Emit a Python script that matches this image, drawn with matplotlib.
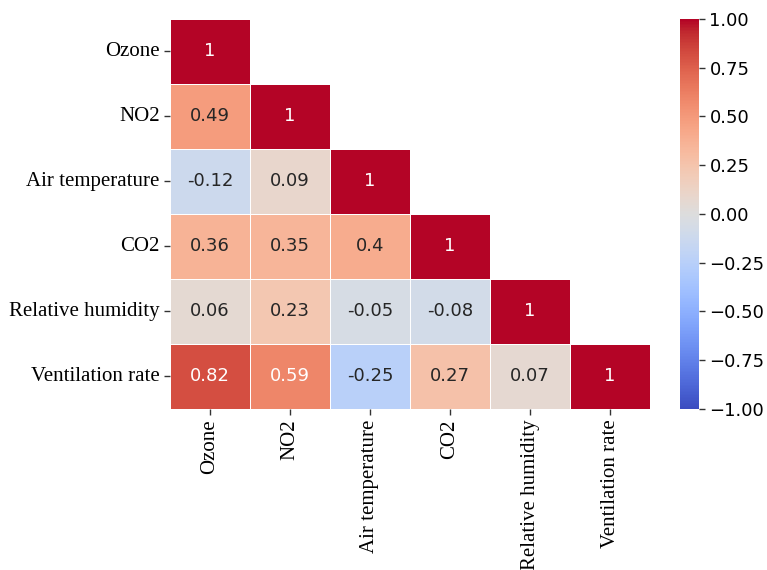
import matplotlib
matplotlib.use("Agg")
import matplotlib.pyplot as plt
import seaborn as sns
import numpy as np
import pandas as pd

# variables and lower-triangle correlation values
variables = ['Ozone', 'NO2', 'Air temperature', 'CO2', 'Relative humidity', 'Ventilation rate']
row_ozone = [1.0]
row_no2 = [0.49, 1.0]
row_airtemp = [-0.12, 0.09, 1.0]
row_co2 = [0.36, 0.35, 0.4, 1.0]
row_rh = [0.06, 0.23, -0.05, -0.08, 1.0]
row_vent = [0.82, 0.59, -0.25, 0.27, 0.07, 1.0]

rows = [row_ozone, row_no2, row_airtemp, row_co2, row_rh, row_vent]
n = len(variables)
corr = np.zeros((n, n))
for i, r in enumerate(rows):
    corr[i, :len(r)] = r
corr = corr + np.tril(corr, -1).T
corr = pd.DataFrame(corr, index=variables, columns=variables)

mask = np.triu(np.ones_like(corr, dtype=bool), k=1)

fig = plt.figure(figsize=(7.67, 5.70), dpi=100)
ax = fig.add_axes([0.2216, 0.2825, 0.6259, 0.6842])
cax = fig.add_axes([0.8866, 0.2825, 0.0248, 0.6842])

sns.heatmap(corr, mask=mask, cmap='coolwarm', vmin=-1, vmax=1, annot=True,
            annot_kws={'fontsize': 13}, linewidths=0.5, linecolor='white',
            ax=ax, cbar_ax=cax)

ax.set_xticklabels(variables, rotation=90, fontsize=15, family='Liberation Serif')
ax.set_yticklabels(variables, rotation=0, fontsize=15, family='Liberation Serif')
ax.tick_params(axis='both', length=4, width=1, color='#333333', left=True, bottom=True)
cax.tick_params(labelsize=13, length=4, width=1, color='#333333')

fig.savefig('out.png', dpi=100)
